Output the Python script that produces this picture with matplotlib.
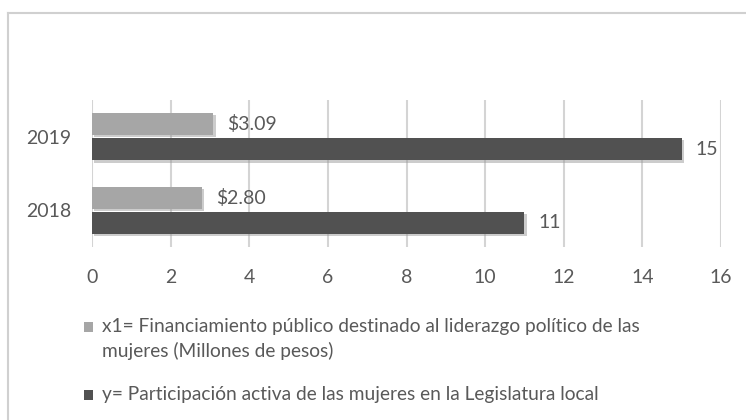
import matplotlib
matplotlib.use("Agg")
import matplotlib.pyplot as plt
import matplotlib.patheffects as pe
from matplotlib.lines import Line2D
from matplotlib.patches import Rectangle
import numpy as np

plt.rcParams['font.family'] = ['Lato', 'DejaVu Sans']

years = ["2018", "2019"]
x1_values = [2.80, 3.09]
y_values = [11, 15]
x1_labels = ["$2.80", "$3.09"]
y_labels = ["11", "15"]
x_ticks = [0, 2, 4, 6, 8, 10, 12, 14, 16]
legend_x1 = ["x1= Financiamiento público destinado al liderazgo político de las",
             "mujeres (Millones de pesos)"]
legend_y = ["y= Participación activa de las mujeres en la Legislatura local"]

light = "#a6a6a6"
dark = "#515151"
txt = "#595959"

W, H = 746, 420
fig = plt.figure(figsize=(W/100, H/100), dpi=100)
ax = fig.add_axes([92/W, 1-247/H, (721-92)/W, 147/H])

pos = np.arange(len(years))
h = 0.30
off = 0.172
shadow = [pe.SimplePatchShadow(offset=(1.5, -1.5), shadow_rgbFace="#9a9a9a", alpha=0.5), pe.Normal()]
ax.barh(pos + off, x1_values, height=h, color=light, zorder=3, path_effects=shadow)
ax.barh(pos - off, y_values, height=h, color=dark, zorder=3, path_effects=shadow)

for i in range(len(years)):
    ax.annotate(x1_labels[i], (x1_values[i], pos[i] + off), xytext=(10, 0), textcoords="offset points",
                va="center", ha="left", fontsize=14, color=txt)
    ax.annotate(y_labels[i], (y_values[i], pos[i] - off), xytext=(10, 0), textcoords="offset points",
                va="center", ha="left", fontsize=14, color=txt)

ax.set_xlim(0, 16)
ax.set_ylim(-0.5, 1.5)
ax.set_xticks(x_ticks)
ax.set_xticklabels([str(t) for t in x_ticks])
ax.set_yticks(pos)
ax.set_yticklabels(years)
ax.tick_params(axis='both', length=0, labelsize=14, colors=txt)
ax.tick_params(axis='x', pad=16)
ax.tick_params(axis='y', pad=15)
ax.grid(axis='x', color="#d4d4d4", linewidth=1.5, zorder=0)
ax.set_axisbelow(True)
for s in ax.spines.values():
    s.set_visible(False)

# legend drawn manually (square aligned with first line)
def legend_entry(color, lines, y_base, spacing=25):
    fig.add_artist(Rectangle((84/W, 1-(y_base)/H), 9/W, 10/H, facecolor=color, edgecolor="none",
                             transform=fig.transFigure))
    for k, line in enumerate(lines):
        fig.text(102/W, 1-(y_base + k*spacing)/H, line, fontsize=13.75, color=txt,
                 ha="left", va="baseline")

legend_entry(light, legend_x1, 332)
legend_entry(dark, legend_y, 400)

fig.add_artist(Line2D([8/W, 8/W], [0, 1-13/H], color="#d0d0d0", linewidth=1.5, transform=fig.transFigure))
fig.add_artist(Line2D([8/W, 1], [1-13/H, 1-13/H], color="#d0d0d0", linewidth=1.5, transform=fig.transFigure))

fig.savefig("out.png", dpi=100)
